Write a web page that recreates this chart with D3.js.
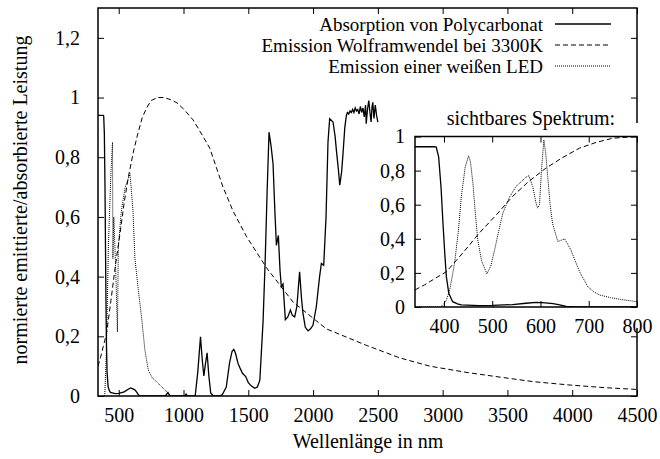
<!DOCTYPE html>
<html>
<head>
<meta charset="utf-8">
<script src="https://cdn.jsdelivr.net/npm/d3@7"></script>
<style>
body { margin: 0; background: #fff; }
svg { font-family: "Liberation Serif", "Times New Roman", serif; }
</style>
</head>
<body>
<svg width="660" height="459"></svg>
<script>
// wavelength in nm, normalized value
const polycarbonat = [
  [340,0.94],[360,0.94],[380,0.94],[384,0.938],[389,0.88],[394,0.7],[398,0.49],[402,0.3],[405,0.178],
  [410,0.08],[418,0.031],[428,0.018],[436,0.012],[473,0.008],[500,0.009],[542,0.014],[570,0.022],
  [591,0.027],[610,0.024],[626,0.02],[640,0.012],[653,0.003],[670,0],[860,0],[880,0.012],[895,0],
  [1010,0],[1020,0.006],[1030,0],[1090,0],[1110,0.08],[1131,0.198],[1145,0.12],[1157,0.067],
  [1170,0.11],[1182,0.145],[1195,0.07],[1210,0.01],[1230,0],[1280,0],[1300,0.005],[1330,0.03],
  [1355,0.11],[1375,0.15],[1388,0.156],[1400,0.145],[1421,0.109],[1440,0.09],[1455,0.076],
  [1480,0.065],[1500,0.045],[1520,0.035],[1550,0.026],[1570,0.03],[1589,0.053],[1614,0.25],
  [1630,0.45],[1645,0.68],[1660,0.884],[1675,0.84],[1691,0.778],[1705,0.62],[1717,0.505],
  [1732,0.538],[1745,0.42],[1755,0.366],[1768,0.375],[1786,0.256],[1805,0.265],[1825,0.288],
  [1840,0.27],[1858,0.265],[1875,0.3],[1896,0.416],[1910,0.33],[1922,0.277],[1940,0.23],
  [1961,0.218],[1980,0.225],[1999,0.237],[2025,0.299],[2050,0.399],[2064,0.444],[2082,0.438],
  [2100,0.6],[2115,0.85],[2128,0.929],[2154,0.918],[2170,0.87],[2180,0.823],[2195,0.76],
  [2206,0.706],[2220,0.75],[2231,0.812],[2245,0.9],[2257,0.94],[2265,0.95],[2275,0.945],
  [2285,0.955],[2295,0.95],[2305,0.96],[2315,0.95],[2325,0.965],[2335,0.955],[2345,0.96],
  [2355,0.945],[2365,0.97],[2375,0.95],[2385,0.965],[2395,0.935],[2405,0.975],[2410,0.912],
  [2420,0.96],[2430,0.99],[2440,0.945],[2448,0.918],[2455,0.97],[2461,0.984],[2470,0.93],
  [2480,0.975],[2490,0.94],[2500,0.918]
];

const wolfram = [
  [340,0.10],[360,0.13],[380,0.165],[405,0.207],[440,0.32],[473,0.433],[510,0.545],[542,0.648],
  [575,0.735],[611,0.814],[645,0.875],[681,0.932],[715,0.965],[750,0.99],[800,1.0],[850,1.0],
  [900,0.993],[950,0.982],[1000,0.962],[1074,0.925],[1150,0.87],[1203,0.83],[1305,0.70],
  [1382,0.62],[1485,0.535],[1640,0.43],[1845,0.315],[2102,0.225],[2410,0.17],[2667,0.128],
  [2900,0.10],[3200,0.078],[3463,0.062],[3700,0.048],[3976,0.037],[4250,0.028],[4500,0.022]
];

// LED as drawn in the main plot
const ledGesamt = [
  [392,0],[405,0.15],[420,0.5],[440,0.75],[452,0.85],[455,0.46],[462,0.6],[475,0.45],[490,0.215],
  [497,0.5],[520,0.62],[550,0.7],[587,0.745],[610,0.62],[625,0.46],[650,0.36],[676,0.265],
  [702,0.154],[728,0.087],[760,0.06],[792,0.048],[856,0.02],[900,0]
];

// LED as drawn in the inset
const ledSichtbar = [
  [340,0],[391,0],[398,0.01],[405,0.04],[412,0.1],[422,0.257],[430,0.45],[436,0.648],[444,0.82],
  [451,0.887],[455,0.85],[460,0.726],[465,0.55],[470,0.393],[478,0.27],[489,0.194],[497,0.24],
  [505,0.335],[513,0.44],[522,0.55],[535,0.64],[549,0.706],[560,0.735],[570,0.761],[576,0.77],
  [584,0.706],[590,0.62],[594,0.58],[598,0.6],[602,0.8],[607,0.98],[611,0.9],[615,0.765],
  [620,0.6],[625,0.49],[636,0.384],[650,0.4],[663,0.335],[672,0.27],[681,0.207],[698,0.119],
  [710,0.09],[723,0.07],[745,0.055],[765,0.045],[800,0.031]
];

const xTicks = [500,1000,1500,2000,2500,3000,3500,4000,4500];
const yTicks = [0,0.2,0.4,0.6,0.8,1,1.2];
const xTicksInset = [400,500,600,700,800];
const yTicksInset = [0,0.2,0.4,0.6,0.8,1];

const legende = ["Absorption von Polycarbonat", "Emission Wolframwendel bei 3300K", "Emission einer weißen LED"];
const dash = ["none", "5,3", "1,1"];

const de = d3.formatLocale({decimal: ",", thousands: ".", grouping: [3], currency: ["", " €"]});
const fmt = de.format("~g");

const svg = d3.select("svg");

const x = d3.scaleLinear().domain([340, 4500]).range([98, 637]);
const y = d3.scaleLinear().domain([0, 1.3]).range([396, 8]);

const xi = d3.scaleLinear().domain([340, 800]).range([415, 637]);
const yi = d3.scaleLinear().domain([0, 1]).range([307, 136.5]);

const defs = svg.append("defs");
defs.append("clipPath").attr("id", "clipMain")
  .append("rect").attr("x", 98).attr("y", 8).attr("width", 539).attr("height", 388);
defs.append("clipPath").attr("id", "clipInset")
  .append("rect").attr("x", 415).attr("y", 136.5).attr("width", 222).attr("height", 170.5);

function kurve(g, data, xs, ys, i) {
  g.append("path")
    .datum(data)
    .attr("fill", "none")
    .attr("stroke", "#000")
    .attr("stroke-width", i === 0 ? 1.3 : 1)
    .attr("stroke-dasharray", dash[i])
    .attr("d", d3.line().x(d => xs(d[0])).y(d => ys(d[1])));
}

// ---- main plot
const main = svg.append("g").attr("clip-path", "url(#clipMain)");
kurve(main, polycarbonat, x, y, 0);
kurve(main, wolfram, x, y, 1);
kurve(main, ledGesamt, x, y, 2);

function achsen(xs, ys, xt, yt, pad) {
  const [x0, x1] = xs.range();
  const [y0, y1] = ys.range();
  const gb = svg.append("g").attr("transform", `translate(0,${y0})`)
    .call(d3.axisBottom(xs).tickValues(xt).tickSize(-6).tickPadding(pad.x).tickFormat(d3.format("d")));
  const gt = svg.append("g").attr("transform", `translate(0,${y1})`)
    .call(d3.axisTop(xs).tickValues(xt).tickSize(-6).tickFormat(""));
  const gl = svg.append("g").attr("transform", `translate(${x0},0)`)
    .call(d3.axisLeft(ys).tickValues(yt).tickSize(-6).tickPadding(pad.y).tickFormat(fmt));
  const gr = svg.append("g").attr("transform", `translate(${x1},0)`)
    .call(d3.axisRight(ys).tickValues(yt).tickSize(-6).tickFormat(""));
  [gb, gt, gl, gr].forEach(g => {
    g.select(".domain").remove();
    g.selectAll("line").attr("stroke", "#000").attr("stroke-width", 1);
    g.selectAll("text").attr("font-size", 20).attr("fill", "#000")
      .style("font-family", "'Liberation Serif', serif");
  });
  svg.append("rect")
    .attr("x", x0).attr("y", y1).attr("width", x1 - x0).attr("height", y0 - y1)
    .attr("fill", "none").attr("stroke", "#000").attr("stroke-width", 1.5);
}

achsen(x, y, xTicks, yTicks, {x: 12, y: 18});

// legend
legende.forEach((t, i) => {
  const ly = 24 + i * 21;
  svg.append("text")
    .attr("x", 543).attr("y", ly).attr("dy", "0.35em")
    .attr("text-anchor", "end").attr("font-size", 19)
    .text(t);
  svg.append("line")
    .attr("x1", 555).attr("x2", 611).attr("y1", ly).attr("y2", ly)
    .attr("stroke", "#000").attr("stroke-width", i === 0 ? 1.3 : 1)
    .attr("stroke-dasharray", dash[i]);
});

svg.append("text")
  .attr("x", 368).attr("y", 448)
  .attr("text-anchor", "middle").attr("font-size", 20)
  .text("Wellenlänge in nm");

svg.append("text")
  .attr("transform", "translate(20,200) rotate(-90)")
  .attr("dy", "0.35em")
  .attr("text-anchor", "middle").attr("font-size", 20)
  .text("normierte emittierte/absorbierte Leistung");

// ---- inset
svg.append("rect")
  .attr("x", 381).attr("y", 123).attr("width", 264).attr("height", 205)
  .attr("fill", "#fff");

svg.append("text")
  .attr("x", 615).attr("y", 118).attr("dy", "0.35em")
  .attr("text-anchor", "end").attr("font-size", 20)
  .text("sichtbares Spektrum:");

const inset = svg.append("g").attr("clip-path", "url(#clipInset)");
kurve(inset, polycarbonat, xi, yi, 0);
kurve(inset, wolfram, xi, yi, 1);
kurve(inset, ledSichtbar, xi, yi, 2);

achsen(xi, yi, xTicksInset, yTicksInset, {x: 12, y: 10});
</script>
</body>
</html>
